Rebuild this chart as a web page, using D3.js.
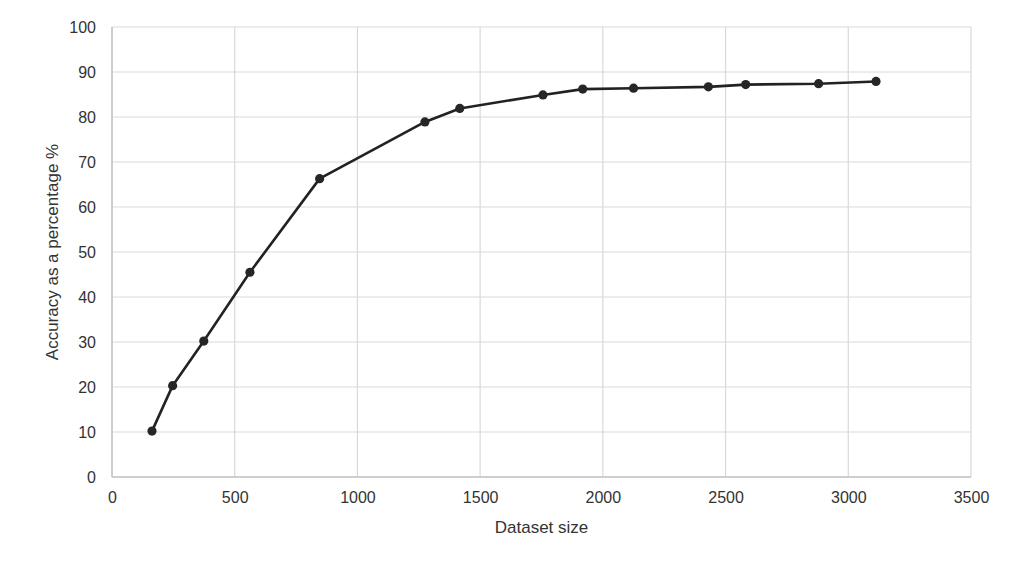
<!DOCTYPE html>
<html>
<head>
<meta charset="utf-8">
<script src="https://cdn.jsdelivr.net/npm/d3@7"></script>
<style>
  body { margin: 0; background: #fff; }
  text { font-family: "Liberation Sans", Arial, sans-serif; fill: #333; }
</style>
</head>
<body>
<div id="chart"></div>
<script>
// Dataset size vs accuracy
const datasetSize = [163, 247, 374, 562, 846, 1275, 1417, 1756, 1918, 2125, 2430, 2582, 2879, 3113];
const accuracy = [10.2, 20.3, 30.2, 45.5, 66.3, 78.9, 81.9, 84.9, 86.2, 86.4, 86.7, 87.2, 87.4, 87.9];

const xTicks = [0, 500, 1000, 1500, 2000, 2500, 3000, 3500];
const yTicks = [0, 10, 20, 30, 40, 50, 60, 70, 80, 90, 100];

const width = 1024;
const height = 567;
const margin = { top: 27, right: 53, bottom: 90, left: 112 };

const svg = d3.select("#chart")
    .append("svg")
    .attr("width", width)
    .attr("height", height);

const x = d3.scaleLinear()
    .domain([0, 3500])
    .range([margin.left, width - margin.right]);

const y = d3.scaleLinear()
    .domain([0, 100])
    .range([height - margin.bottom, margin.top]);

// gridlines
svg.append("g")
    .selectAll("line.h")
    .data(yTicks)
    .join("line")
    .attr("x1", x(0))
    .attr("x2", x(3500))
    .attr("y1", d => y(d))
    .attr("y2", d => y(d))
    .attr("stroke", "#d9d9d9")
    .attr("stroke-width", 1.2);

svg.append("g")
    .selectAll("line.v")
    .data(xTicks)
    .join("line")
    .attr("x1", d => x(d))
    .attr("x2", d => x(d))
    .attr("y1", y(0))
    .attr("y2", y(100))
    .attr("stroke", "#d9d9d9")
    .attr("stroke-width", 1.2);

// axis lines a bit darker
svg.append("line")
    .attr("x1", x(0)).attr("x2", x(3500))
    .attr("y1", y(0)).attr("y2", y(0))
    .attr("stroke", "#c4c4c4").attr("stroke-width", 1.5);
svg.append("line")
    .attr("x1", x(0)).attr("x2", x(0))
    .attr("y1", y(0)).attr("y2", y(100))
    .attr("stroke", "#c4c4c4").attr("stroke-width", 1.5);

// tick labels
const xAxis = d3.axisBottom(x).tickValues(xTicks).tickFormat(d3.format("d")).tickSize(0).tickPadding(15);
svg.append("g")
    .attr("transform", `translate(0,${y(0)})`)
    .call(xAxis)
    .call(g => g.select(".domain").remove())
    .selectAll("text")
    .attr("font-size", 16)
    .attr("font-family", "Liberation Sans, Arial, sans-serif")
    .attr("fill", "#333");

const yAxis = d3.axisLeft(y).tickValues(yTicks).tickFormat(d3.format("d")).tickSize(0).tickPadding(16);
svg.append("g")
    .attr("transform", `translate(${x(0)},0)`)
    .call(yAxis)
    .call(g => g.select(".domain").remove())
    .selectAll("text")
    .attr("font-size", 16)
    .attr("font-family", "Liberation Sans, Arial, sans-serif")
    .attr("fill", "#333");

// axis titles
svg.append("text")
    .attr("x", x(1750))
    .attr("y", 533)
    .attr("text-anchor", "middle")
    .attr("font-size", 17)
    .text("Dataset size");

svg.append("text")
    .attr("transform", `translate(58,${y(50)}) rotate(-90)`)
    .attr("text-anchor", "middle")
    .attr("font-size", 17)
    .text("Accuracy as a percentage %");

// the line and markers
const points = datasetSize.map((d, i) => [d, accuracy[i]]);

const line = d3.line()
    .x(d => x(d[0]))
    .y(d => y(d[1]));

svg.append("path")
    .datum(points)
    .attr("d", line)
    .attr("fill", "none")
    .attr("stroke", "#222")
    .attr("stroke-width", 2.6)
    .attr("stroke-linejoin", "round");

svg.append("g")
    .selectAll("circle")
    .data(points)
    .join("circle")
    .attr("cx", d => x(d[0]))
    .attr("cy", d => y(d[1]))
    .attr("r", 4.6)
    .attr("fill", "#262626");
</script>
</body>
</html>
